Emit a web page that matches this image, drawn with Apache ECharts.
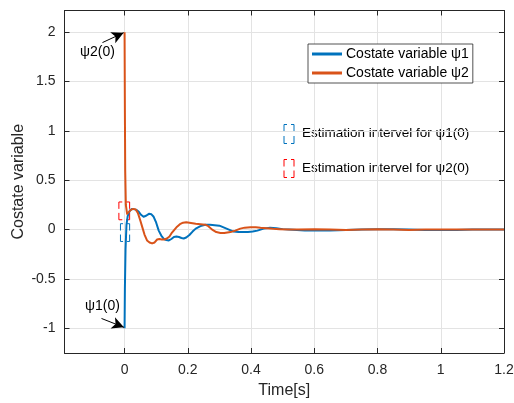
<!DOCTYPE html>
<html><head><meta charset="utf-8">
<script src="https://cdn.jsdelivr.net/npm/echarts@6/dist/echarts.min.js"></script>
<style>html,body{margin:0;padding:0;background:#fff}#c{width:514px;height:403px}</style>
</head><body><div id="c"></div>
<script>
const xTicks = [0, 0.2, 0.4, 0.6, 0.8, 1, 1.2];
const yTicks = [-1, -0.5, 0, 0.5, 1, 1.5, 2];

const t1 = [0, 0.001, 0.003, 0.006, 0.01, 0.017, 0.024, 0.03, 0.038, 0.045,
  0.052, 0.06, 0.068, 0.077, 0.085, 0.092, 0.1, 0.108, 0.116, 0.124,
  0.132, 0.14, 0.148, 0.156, 0.164, 0.172, 0.18, 0.187, 0.195, 0.205,
  0.215, 0.225, 0.24, 0.255, 0.27, 0.285, 0.3, 0.315, 0.33, 0.345,
  0.36, 0.375, 0.39, 0.405, 0.42, 0.44, 0.46, 0.48, 0.5, 0.52,
  0.545, 0.57, 0.6, 0.65, 0.7, 0.75, 0.8, 0.85, 0.9, 0.95,
  1.0, 1.05, 1.1, 1.15, 1.2];
const psi1 = [-1, -0.6, -0.2, 0.05, 0.14, 0.195, 0.21, 0.21, 0.2, 0.18,
  0.15, 0.13, 0.14, 0.16, 0.155, 0.13, 0.07, -0.01, -0.06, -0.093,
  -0.105, -0.11, -0.095, -0.075, -0.07, -0.075, -0.085, -0.09, -0.08, -0.055,
  -0.02, 0.01, 0.035, 0.05, 0.05, 0.045, 0.04, 0.02, 0.0, -0.02,
  -0.025, -0.025, -0.025, -0.02, -0.01, 0.01, 0.02, 0.015, 0.005, 0.0,
  -0.005, -0.01, -0.01, -0.008, -0.005, 0.0, 0.005, 0.003, 0.0, -0.003,
  -0.005, -0.003, 0.0, 0.0, 0.0];

const t2 = [0, 0.001, 0.002, 0.004, 0.008, 0.014, 0.02, 0.027, 0.035, 0.042,
  0.05, 0.056, 0.063, 0.071, 0.079, 0.087, 0.095, 0.103, 0.11, 0.118,
  0.126, 0.134, 0.142, 0.15, 0.158, 0.166, 0.175, 0.185, 0.195, 0.205,
  0.215, 0.225, 0.24, 0.255, 0.265, 0.277, 0.29, 0.303, 0.315, 0.335,
  0.35, 0.366, 0.38, 0.398, 0.415, 0.43, 0.45, 0.47, 0.49, 0.52,
  0.55, 0.6, 0.65, 0.7, 0.75, 0.8, 0.85, 0.9, 0.95, 1.0,
  1.05, 1.1, 1.15, 1.2];
const psi2 = [2, 1.2, 0.6, 0.25, 0.16, 0.17, 0.2, 0.21, 0.205, 0.17,
  0.09, 0.025, -0.05, -0.11, -0.13, -0.14, -0.13, -0.1, -0.095, -0.1,
  -0.1, -0.09, -0.07, -0.03, 0.0, 0.03, 0.055, 0.07, 0.075, 0.07,
  0.065, 0.06, 0.055, 0.05, 0.035, 0.0, -0.025, -0.035, -0.035, -0.025,
  -0.01, 0.01, 0.02, 0.025, 0.025, 0.02, 0.015, 0.008, 0.005, 0.0,
  0.0, 0.005, 0.0, -0.003, 0.0, 0.003, 0.0, -0.003, 0.0, 0.002,
  0.0, 0.0, 0.0, 0.0];

// estimation interval boxes [tMin, tMax] x [vMin, vMax]
const box1T = [-0.013, 0.016];
const box1V = [-0.12, 0.06];
const box2T = [-0.018, 0.016];
const box2V = [0.10, 0.28];

// annotation arrows: [tail, head] in data coords
const arrow2 = [[-0.07, 1.895], [-0.003, 1.995]];
const arrow1 = [[-0.073, -0.9], [-0.002, -0.99]];

const seriesNames = ['Costate variable \u03c81', 'Costate variable \u03c82'];
const noteTexts = ['Estimation intervel for \u03c81(0)', 'Estimation intervel for \u03c82(0)'];

const FONT = '"Liberation Sans", Arial, Helvetica, sans-serif';
const AX = '#262626';
const BLUE = '#0072BD', ORANGE = '#D95319', RED = '#FF0000';

function pairs(xs, ys) { return xs.map((x, i) => [x, ys[i]]); }
function boxPath(T, V) {
  return [[T[0], V[0]], [T[1], V[0]], [T[1], V[1]], [T[0], V[1]], [T[0], V[0]]];
}

const XMIN = -0.19, XMAX = 1.2, YMIN = -1.25, YMAX = 2.22;

function axisCommon(showLabel, grid) {
  return {
    type: 'value',
    axisLine: { show: true, onZero: false, lineStyle: { color: AX, width: 1 } },
    axisTick: { show: true, inside: true, length: 5, lineStyle: { color: AX } },
    axisLabel: { show: showLabel, color: AX, fontSize: 14, fontFamily: FONT },
    splitLine: { show: grid, lineStyle: { color: '#e3e3e3', width: 1 } }
  };
}

const chart = echarts.init(document.getElementById('c'), null, { renderer: 'canvas' });
const xa0 = axisCommon(true, true);
Object.assign(xa0, { min: XMIN, max: XMAX, position: 'bottom', name: 'Time[s]', nameLocation: 'middle', nameGap: 30,
  nameMoveOverlap: false,
  nameTextStyle: { fontSize: 16, color: AX, fontFamily: FONT } });
xa0.axisTick.customValues = xTicks; xa0.axisLabel.customValues = xTicks; xa0.axisLabel.margin = 10;
const xa1 = axisCommon(false, false);
Object.assign(xa1, { min: XMIN, max: XMAX, position: 'top' });
xa1.axisTick.customValues = xTicks;
const ya0 = axisCommon(true, true);
Object.assign(ya0, { min: YMIN, max: YMAX, position: 'left', name: 'Costate variable', nameLocation: 'middle', nameGap: 38,
  nameMoveOverlap: false,
  nameTextStyle: { fontSize: 16, color: AX, fontFamily: FONT } });
ya0.axisTick.customValues = yTicks; ya0.axisLabel.customValues = yTicks; ya0.axisLabel.margin = 9;
const ya1 = axisCommon(false, false);
Object.assign(ya1, { min: YMIN, max: YMAX, position: 'right' });
ya1.axisTick.customValues = yTicks;

function arrowLine(a) {
  return [{ coord: a[0] }, { coord: a[1] }];
}

chart.setOption({
  animation: false,
  backgroundColor: '#fff',
  textStyle: { fontFamily: FONT },
  grid: { left: 64.5, right: 10, top: 10.5, bottom: 50, containLabel: false, outerBoundsMode: 'none' },
  xAxis: [xa0, xa1],
  yAxis: [ya0, ya1],
  legend: {
    data: seriesNames,
    orient: 'vertical', left: 308, top: 44,
    icon: 'rect', itemWidth: 30, itemHeight: 3, itemGap: 5,
    padding: [3, 4, 3, 4],
    backgroundColor: '#fff', borderColor: AX, borderWidth: 0.8, borderRadius: 0,
    textStyle: { fontSize: 14, color: '#000', fontFamily: FONT, padding: [0, 0, 0, -1] }
  },
  series: [
    { type: 'line', name: 'box1', data: boxPath(box1T, box1V), showSymbol: false, silent: true,
      lineStyle: { color: BLUE, width: 1, type: [9.45, 4], dashOffset: 6.85 }, z: 1 },
    { type: 'line', name: 'box2', data: boxPath(box2T, box2V), showSymbol: false, silent: true,
      lineStyle: { color: RED, width: 1, type: [10.25, 4], dashOffset: 6.85 }, z: 1 },
    { type: 'line', name: seriesNames[0], data: pairs(t1, psi1), showSymbol: false, color: BLUE,
      lineStyle: { color: BLUE, width: 2, join: 'round' }, z: 3,
      markLine: { silent: true, symbol: ['none', 'arrow'], symbolSize: [9, 12], label: { show: false },
        lineStyle: { color: '#000', width: 1, type: 'solid' }, data: [arrowLine(arrow1), arrowLine(arrow2)] } },
    { type: 'line', name: seriesNames[1], data: pairs(t2, psi2), showSymbol: false, color: ORANGE,
      lineStyle: { color: ORANGE, width: 2, join: 'round' }, z: 4 }
  ],
  graphic: [
    { type: 'text', left: 80, top: 45, style: { text: '\u03c82(0)', fill: '#000', font: '14px ' + FONT } },
    { type: 'text', left: 85, top: 299, style: { text: '\u03c81(0)', fill: '#000', font: '14px ' + FONT } },
    { type: 'rect', shape: { x: 284, y: 124.5, width: 10, height: 19 },
      style: { fill: 'none', stroke: BLUE, lineWidth: 1, lineDash: [10.5, 4], lineDashOffset: 7.5 } },
    { type: 'rect', shape: { x: 284, y: 159.5, width: 10, height: 18 },
      style: { fill: 'none', stroke: RED, lineWidth: 1, lineDash: [10, 4], lineDashOffset: 7 } },
    { type: 'text', left: 302, top: 126, style: { text: noteTexts[0], fill: '#000', font: '13.5px ' + FONT } },
    { type: 'text', left: 302, top: 161, style: { text: noteTexts[1], fill: '#000', font: '13.5px ' + FONT } }
  ]
});
</script></body></html>
